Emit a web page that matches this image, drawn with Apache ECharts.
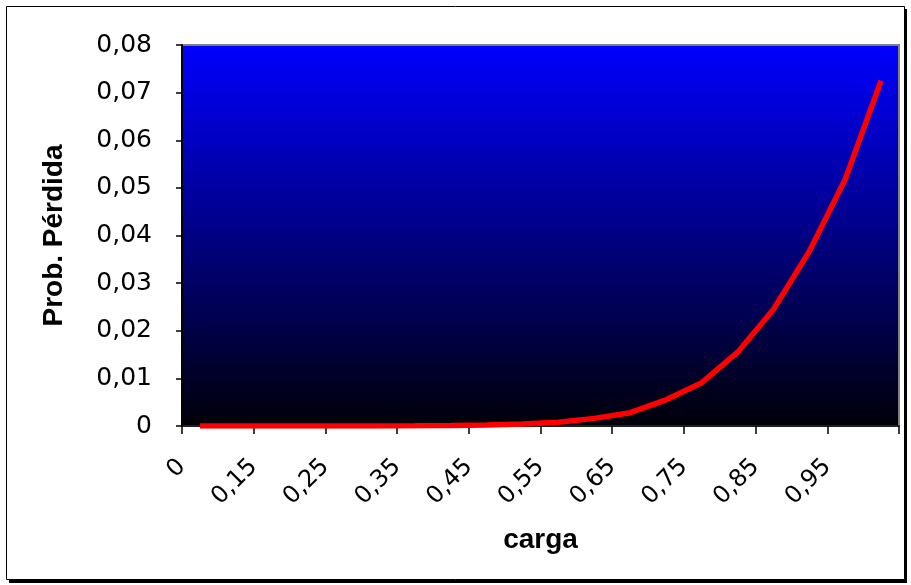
<!DOCTYPE html>
<html>
<head>
<meta charset="utf-8">
<script src="https://cdn.jsdelivr.net/npm/echarts@6/dist/echarts.min.js"></script>
<style>
  html, body { margin: 0; padding: 0; background: #ffffff; }
  #chart { width: 911px; height: 585px; }
</style>
</head>
<body>
<div id="chart"></div>
<script>
// Load levels (one category per point on the curve)
var carga = ['0', '0,1', '0,15', '0,2', '0,25', '0,3', '0,35', '0,4', '0,45', '0,5',
             '0,55', '0,6', '0,65', '0,7', '0,75', '0,8', '0,85', '0,9', '0,95', '1'];

// Loss probability for each load level
var probPerdida = [0, 0, 0, 0, 0, 0, 0.00004, 0.0001, 0.0002, 0.0004,
                   0.0008, 0.0016, 0.0028, 0.0055, 0.0091, 0.0155, 0.0245, 0.0367, 0.0518, 0.0725];

// Labels printed under every second category boundary
var xTickLabels = ['0', '0,15', '0,25', '0,35', '0,45', '0,55', '0,65', '0,75', '0,85', '0,95', ''];

var chart = echarts.init(document.getElementById('chart'), null, { renderer: 'canvas' });

var labelFont = 'DejaVu Sans';
var titleFont = 'Liberation Sans';

chart.setOption({
  animation: false,
  backgroundColor: 'transparent',
  graphic: [
    { type: 'rect', z: -10, silent: true,
      shape: { x: 9, y: 9, width: 898, height: 574 },
      style: { fill: '#000000' } },
    { type: 'rect', z: -9, silent: true,
      shape: { x: 6.5, y: 6.5, width: 898, height: 573 },
      style: { fill: '#ffffff', stroke: '#000000', lineWidth: 1 } }
  ],
  grid: {
    left: 182, right: 12, top: 45, bottom: 159,
    show: true,
    borderColor: '#808080',
    borderWidth: 2,
    backgroundColor: {
      type: 'linear', x: 0, y: 0, x2: 0, y2: 1,
      colorStops: [
        { offset: 0, color: '#0000ff' },
        { offset: 1, color: '#000008' }
      ]
    }
  },
  xAxis: [
    {
      type: 'category',
      data: carga,
      boundaryGap: true,
      name: 'carga',
      nameLocation: 'middle',
      nameGap: 100,
      nameTextStyle: { fontFamily: titleFont, fontWeight: 'bold', fontSize: 28, color: '#000000' },
      axisLine: { show: true, lineStyle: { color: '#000000', width: 1.5 } },
      axisTick: { show: false },
      axisLabel: { show: false },
      splitLine: { show: false }
    },
    {
      type: 'category',
      data: xTickLabels,
      boundaryGap: false,
      position: 'bottom',
      axisLine: { show: false },
      axisTick: { show: true, inside: false, length: 8, interval: 0,
                  lineStyle: { color: '#000000', width: 1.5 } },
      axisLabel: { show: true, interval: 0, rotate: 45, margin: 37,
                   fontFamily: labelFont, fontSize: 24, color: '#000000' },
      splitLine: { show: false }
    }
  ],
  yAxis: {
    type: 'value',
    min: 0,
    max: 0.08,
    interval: 0.01,
    name: 'Prob. Pérdida',
    nameLocation: 'middle',
    nameRotate: 90,
    nameGap: 114,
    nameTextStyle: { fontFamily: titleFont, fontWeight: 'bold', fontSize: 28, color: '#000000' },
    axisLine: { show: true, lineStyle: { color: '#000000', width: 2 } },
    axisTick: { show: true, inside: false, length: 6, lineStyle: { color: '#000000', width: 1.5 } },
    axisLabel: {
      margin: 30,
      fontFamily: labelFont, fontSize: 25, color: '#000000',
      formatter: function (v) {
        return v === 0 ? '0' : v.toFixed(2).replace('.', ',');
      }
    },
    splitLine: { show: false }
  },
  series: [
    {
      type: 'line',
      xAxisIndex: 0,
      data: probPerdida,
      showSymbol: false,
      symbol: 'none',
      lineStyle: { color: '#ff0000', width: 5.5 },
      z: 3
    }
  ]
});
</script>
</body>
</html>
